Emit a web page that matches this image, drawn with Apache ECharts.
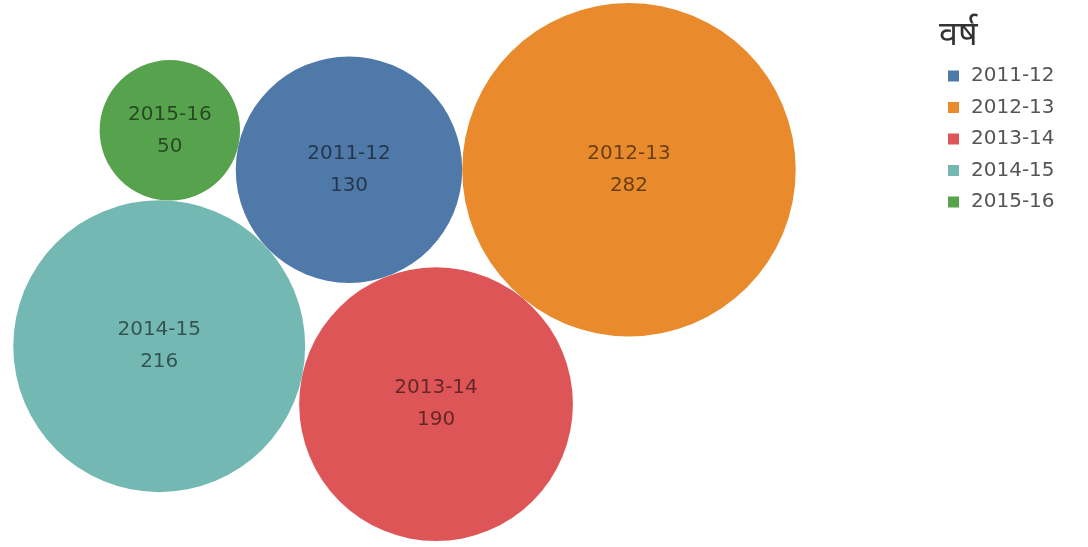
<!DOCTYPE html>
<html>
<head>
<meta charset="utf-8">
<script src="https://cdn.jsdelivr.net/npm/echarts@6/dist/echarts.min.js"></script>
<style>
  html, body { margin: 0; padding: 0; background: #ffffff; }
  #chart { width: 1088px; height: 547px; }
</style>
</head>
<body>
<div id="chart"></div>
<script>
// ---- data ----
const legendTitle = 'वर्ष';
const categories = ['2011-12', '2012-13', '2013-14', '2014-15', '2015-16'];
const values = [130, 282, 190, 216, 50];
const colors = ['#4e79a8', '#e98a2c', '#dd5557', '#73b8b2', '#57a24c'];

// ---- packed-bubble layout (area proportional to value) ----
const K = 9.93;
const rad = v => K * Math.sqrt(v);
const idx = name => categories.indexOf(name);
const circ = {};
function mk(name) { return { r: rad(values[idx(name)]) }; }

function tangent(a, b, rc) {
  const dx = b.x - a.x, dy = b.y - a.y;
  const d = Math.hypot(dx, dy);
  const da = a.r + rc, db = b.r + rc;
  const x = (d * d + da * da - db * db) / (2 * d);
  const h = Math.sqrt(Math.max(0, da * da - x * x));
  const ux = dx / d, uy = dy / d;
  const px = -uy, py = ux;
  return [
    { x: a.x + x * ux + h * px, y: a.y + x * uy + h * py, r: rc },
    { x: a.x + x * ux - h * px, y: a.y + x * uy - h * py, r: rc }
  ];
}
const far = (cands, ref) => {
  const d0 = Math.hypot(cands[0].x - ref.x, cands[0].y - ref.y);
  const d1 = Math.hypot(cands[1].x - ref.x, cands[1].y - ref.y);
  return d0 > d1 ? cands[0] : cands[1];
};

// largest first, next to its left, the rest nestled against two earlier circles
const A = mk('2012-13'); A.x = 0; A.y = 0; circ['2012-13'] = A;
const B = mk('2011-12'); B.x = -(A.r + B.r); B.y = 0; circ['2011-12'] = B;
let c2 = tangent(A, B, mk('2013-14').r);
const C = c2[0].y > c2[1].y ? c2[0] : c2[1]; circ['2013-14'] = C;
const D = far(tangent(B, C, mk('2014-15').r), A); circ['2014-15'] = D;
const E = far(tangent(B, D, mk('2015-16').r), C); circ['2015-16'] = E;

// centre the pack in the plotting area
let minX = Infinity, maxX = -Infinity, minY = Infinity, maxY = -Infinity;
Object.values(circ).forEach(c => {
  minX = Math.min(minX, c.x - c.r); maxX = Math.max(maxX, c.x + c.r);
  minY = Math.min(minY, c.y - c.r); maxY = Math.max(maxY, c.y + c.r);
});
const areaCx = 404.5, areaCy = 272;
const offX = areaCx - (minX + maxX) / 2, offY = areaCy - (minY + maxY) / 2;

const W = 1088, H = 547;
const chart = echarts.init(document.getElementById('chart'), null, { renderer: 'canvas' });

const series = categories.map((name, i) => {
  const c = circ[name];
  return {
    type: 'scatter',
    name: name,
    data: [[c.x + offX, c.y + offY, values[i]]],
    symbol: 'circle',
    symbolSize: v => 2 * rad(v[2]),
    itemStyle: { color: colors[i], opacity: 1 },
    label: {
      show: true,
      position: 'inside',
      formatter: p => p.seriesName + '\n' + p.value[2],
      color: 'rgba(0,0,0,0.55)',
      fontSize: 20,
      lineHeight: 32,
      fontFamily: 'DejaVu Sans'
    },
    emphasis: { disabled: true },
    silent: true
  };
});

chart.setOption({
  animation: false,
  backgroundColor: '#ffffff',
  title: {
    text: legendTitle,
    left: 934,
    top: 13,
    textStyle: { fontSize: 34, fontWeight: 'normal', color: '#333', fontFamily: 'Noto Sans, DejaVu Sans, sans-serif' }
  },
  legend: {
    data: categories,
    orient: 'vertical',
    left: 943,
    top: 61,
    icon: 'rect',
    itemWidth: 11,
    itemHeight: 11,
    itemGap: 11.5,
    selectedMode: false,
    textStyle: { fontSize: 20, lineHeight: 20, color: '#555', fontFamily: 'DejaVu Sans', padding: [0, 0, 0, 7] }
  },
  grid: { left: 0, right: 0, top: 0, bottom: 0 },
  xAxis: { type: 'value', min: 0, max: W, show: false },
  yAxis: { type: 'value', min: 0, max: H, inverse: true, show: false },
  series: series
});
</script>
</body>
</html>
